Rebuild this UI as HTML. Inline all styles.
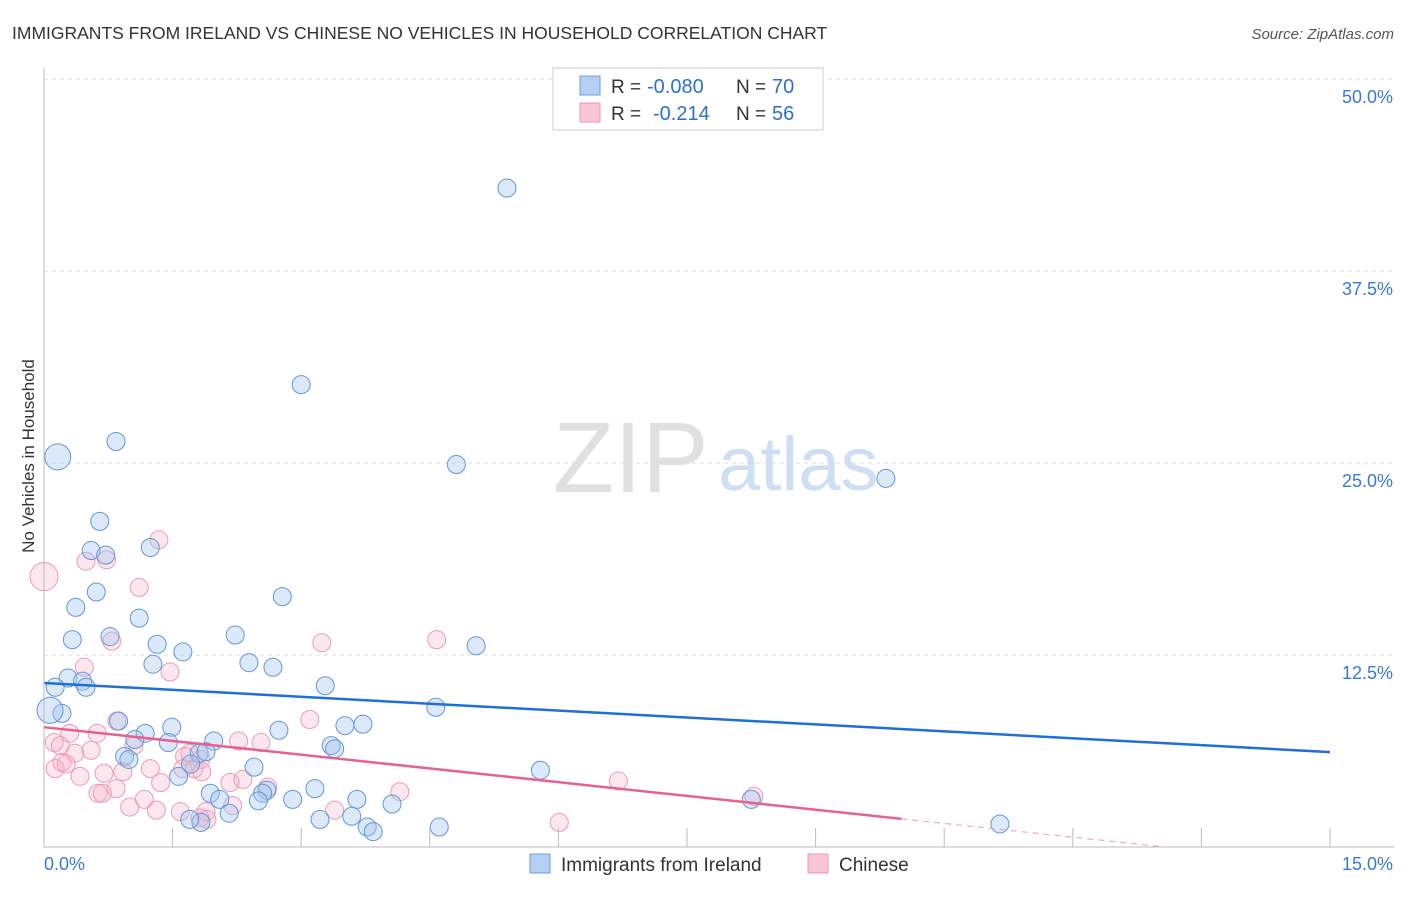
<!DOCTYPE html>
<html><head><meta charset="utf-8"><style>
body{margin:0;background:#fff;font-family:"Liberation Sans",sans-serif;}
svg text{font-family:"Liberation Sans",sans-serif;}
</style></head><body>
<svg id="chart" width="1406" height="892" viewBox="0 0 1406 892" xmlns="http://www.w3.org/2000/svg">
<text x="12" y="39" font-size="17.5" fill="#333">IMMIGRANTS FROM IRELAND VS CHINESE NO VEHICLES IN HOUSEHOLD CORRELATION CHART</text>
<text x="1394" y="39" font-size="15" fill="#555" text-anchor="end" font-style="italic">Source: ZipAtlas.com</text>
<g id="grid"></g>
<g>
<text x="553" y="492" font-size="100" fill="#e0e0e0" font-family="Liberation Serif">ZIP</text>
<text x="718" y="490" font-size="76" fill="#cfdff3">atlas</text>
</g>
<g id="points"></g>
<g id="trends"></g>
<g id="axes"></g>
<text transform="translate(34,456) rotate(-90)" font-size="17" fill="#333" text-anchor="middle">No Vehicles in Household</text>
<g>
<rect x="553" y="68" width="270" height="62" fill="#fff" stroke="#ccc"/>
<rect x="580" y="76" width="20" height="19" fill="#b6d0f3" stroke="#6e9be0"/>
<rect x="580" y="103" width="20" height="19" fill="#f8c6d6" stroke="#ea98b4"/>
<text x="611" y="93" font-size="19" fill="#333">R =</text>
<text x="647" y="93" font-size="20" fill="#2f6fd0">-0.080</text>
<text x="736" y="93" font-size="19" fill="#333">N =</text>
<text x="772" y="93" font-size="20" fill="#2f6fd0">70</text>
<text x="611" y="120" font-size="19" fill="#333">R =</text>
<text x="653" y="120" font-size="20" fill="#2f6fd0">-0.214</text>
<text x="736" y="120" font-size="19" fill="#333">N =</text>
<text x="772" y="120" font-size="20" fill="#2f6fd0">56</text>
</g>
<g>
<rect x="530" y="854" width="20" height="19" fill="#b6d0f3" stroke="#6e9be0"/>
<text x="561" y="871" font-size="19" fill="#333">Immigrants from Ireland</text>
<rect x="808" y="854" width="20" height="19" fill="#f8c6d6" stroke="#ea98b4"/>
<text x="839" y="871" font-size="19" fill="#333">Chinese</text>
</g>
</svg>
<script>
const yTicks=[12.5,25,37.5,50];
const yTickLabels=["12.5%","25.0%","37.5%","50.0%"];
const xTicks=[0,1.5,3,4.5,6,7.5,9,10.5,12,13.5,15];
const xEndLabels=["0.0%","15.0%"];
const irelandX=[5.40,3.0,0.84,0.16,4.81,9.82,0.65,0.55,0.72,1.24,0.61,2.78,0.37,1.11,0.77,0.33,2.23,1.32,1.62,5.04,1.27,2.39,2.67,0.28,0.45,0.13,0.49,3.28,4.57,0.21,0.07,0.87,1.49,3.72,3.51,2.74,1.18,1.06,1.45,1.98,3.35,3.39,0.94,0.99,1.81,1.71,1.89,2.45,1.57,5.79,1.94,2.05,2.60,2.55,3.16,2.90,3.65,4.06,8.25,2.16,2.50,1.83,3.22,3.59,3.77,3.84,4.61,11.15,1.70];
const irelandY=[42.9,30.1,26.4,25.4,24.9,24.0,21.2,19.3,19.0,19.5,16.6,16.3,15.6,14.9,13.7,13.5,13.8,13.2,12.7,13.1,11.9,12.0,11.7,11.0,10.8,10.4,10.4,10.5,9.1,8.7,8.9,8.2,7.8,8.0,7.9,7.6,7.4,7.0,6.8,6.9,6.6,6.4,5.9,5.7,6.1,5.4,6.2,5.2,4.6,5.0,3.5,3.1,3.7,3.5,3.8,3.1,3.1,2.8,3.1,2.2,3.0,1.6,1.8,2.0,1.3,1.0,1.3,1.5,1.8];
const irelandLarge=[3,30];
const chineseX=[0,1.34,0.49,0.73,1.11,0.79,3.24,4.58,0.47,1.47,0.85,3.10,0.12,0.19,0.30,0.62,1.05,2.27,2.53,1.70,1.64,1.83,0.36,0.55,0.21,0.13,0.26,0.70,0.92,1.24,1.62,1.75,1.84,0.42,1.36,2.17,2.32,2.61,4.15,6.70,8.28,0.84,0.63,0.68,1.17,1.31,1.00,1.59,1.89,2.20,3.39,1.90,6.01,1.82];
const chineseY=[17.6,20.0,18.6,18.7,16.9,13.4,13.3,13.5,11.7,11.4,8.2,8.3,6.8,6.6,7.4,7.4,6.6,6.9,6.8,6.1,5.9,5.7,6.1,6.3,5.5,5.1,5.4,4.8,4.9,5.1,5.1,5.1,4.9,4.6,4.2,4.2,4.4,3.9,3.6,4.3,3.3,3.8,3.5,3.5,3.1,2.4,2.6,2.3,2.3,2.7,2.4,1.8,1.6,1.9];
const chineseLarge=[0];
const irelandTrend=[10.68,6.18];
const chineseTrend=[7.8,-1.15];
const chineseSolidEnd=10;

const NS="http://www.w3.org/2000/svg";
const X0=44,X1=1330,Y0=847,YPX=15.36;
const sx=v=>X0+(X1-X0)*v/15;
const sy=v=>Y0-v*YPX;
function mk(tag,attrs,parent){const e=document.createElementNS(NS,tag);for(const k in attrs)e.setAttribute(k,attrs[k]);parent.appendChild(e);return e;}
const grid=document.getElementById('grid'),axes=document.getElementById('axes'),pts=document.getElementById('points'),tr=document.getElementById('trends');
yTicks.forEach((t,i)=>{
 const l=mk('line',{x1:X0,x2:1394,y1:sy(t),y2:sy(t),stroke:'#ddd','stroke-dasharray':'4,4'},grid);
 
 
 const tx=mk('text',{x:1393,y:sy(t)+24,'font-size':18,fill:'#3b78d8','text-anchor':'end'},axes);
 tx.textContent=yTickLabels[i];
 
 
});
mk('line',{x1:X0,x2:X0,y1:68,y2:Y0,stroke:'#bbb'},axes);
mk('line',{x1:X0,x2:1394,y1:Y0,y2:Y0,stroke:'#bbb'},axes);
xTicks.forEach(t=>{
 const l=mk('line',{x1:sx(t),x2:sx(t),y1:Y0-19,y2:Y0,stroke:'#bbb'},axes);
 
 
});
const xl0=mk('text',{x:44,y:870,'font-size':18,fill:'#3b78d8'},axes);xl0.textContent=xEndLabels[0];


const xl1=mk('text',{x:1393,y:870,'font-size':18,fill:'#3b78d8','text-anchor':'end'},axes);xl1.textContent=xEndLabels[1];



chineseX.forEach((x,i)=>{
 const c=mk('circle',{cx:sx(x),cy:sy(chineseY[i]),r:chineseLarge.includes(i)?14:9,fill:'rgba(246,175,198,0.3)',stroke:'#ec9ab6','stroke-width':1},pts);
 
 
});
irelandX.forEach((x,i)=>{
 const c=mk('circle',{cx:sx(x),cy:sy(irelandY[i]),r:irelandLarge.includes(i)?13:9,fill:'rgba(160,196,240,0.38)',stroke:'#6396dc','stroke-width':1},pts);
 
 
});
const bl=mk('line',{x1:sx(0),y1:sy(irelandTrend[0]),x2:sx(15),y2:sy(irelandTrend[1]),stroke:'#1f6fd6','stroke-width':2.5},tr);


const slope=(chineseTrend[1]-chineseTrend[0])/15;
const cy=x=>chineseTrend[0]+slope*x;
const zeroX=-chineseTrend[0]/slope;
const pl=mk('line',{x1:sx(0),y1:sy(cy(0)),x2:sx(chineseSolidEnd),y2:sy(cy(chineseSolidEnd)),stroke:'#e8608f','stroke-width':2.5},tr);


const pd=mk('line',{x1:sx(chineseSolidEnd),y1:sy(cy(chineseSolidEnd)),x2:sx(zeroX),y2:sy(0),stroke:'#eeaabf','stroke-width':1.2,'stroke-dasharray':'6,5'},tr);


</script>
</body></html>
